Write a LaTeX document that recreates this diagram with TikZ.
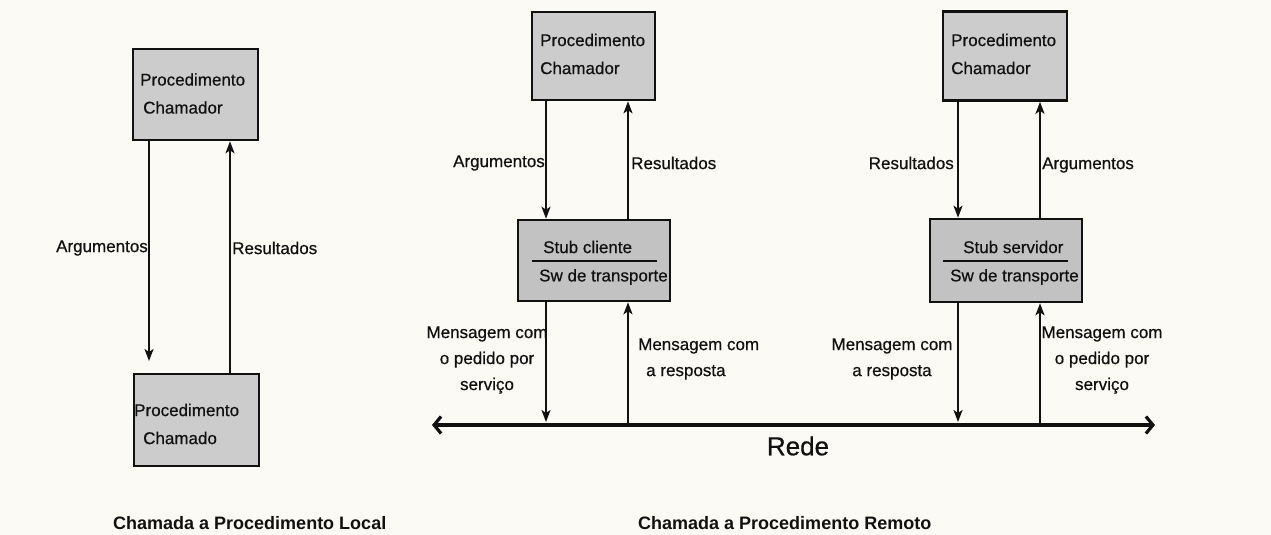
\documentclass[tikz,border=0pt]{standalone}
\usepackage{fontspec}
\setmainfont{Liberation Sans}[FakeBold=0.6]
\newfontfamily\captionfont{Liberation Sans}
\usetikzlibrary{arrows.meta}
\definecolor{paper}{HTML}{FCFAF5}
\definecolor{boxgray}{HTML}{CCCCCC}
\definecolor{stubgray}{HTML}{C2C2C2}
\definecolor{ink}{HTML}{111111}
\begin{document}
\begin{tikzpicture}[x=1pt,y=-1pt,
  every node/.style={text=ink},
  procbox/.style={draw=ink,line width=2.6pt,fill=boxgray,inner sep=0pt},
  stubbox/.style={procbox,fill=stubgray},
  boxtext/.style={inner sep=0pt,align=left,font=\fontsize{17}{28}\selectfont},
  lbl/.style={inner sep=0pt,font=\fontsize{17}{26}\selectfont},
  msgtext/.style={lbl,align=center},
  captiontext/.style={inner sep=0pt,anchor=west,font=\captionfont\bfseries\fontsize{18}{22}\selectfont},
  arr/.style={draw=ink,line width=2pt,-{Stealth[length=12pt,width=9pt,inset=3pt]}},
  netline/.style={draw=ink,line width=3.4pt,
    {Straight Barb[length=7pt,width=17pt,line width=3.2pt]}-{Straight Barb[length=7pt,width=17pt,line width=3.2pt]}}
]
% page
\fill[paper] (0,0) rectangle (1271,535);
\useasboundingbox (0,0) rectangle (1271,535);

% ---------- local call ----------
\node[procbox,minimum width=125,minimum height=91] (lcaller) at (195.5,94.5) {};
\node[boxtext,anchor=west] (lcallerT) at (140,93.5) {Procedimento\\\hspace{3pt}Chamador};
\node[procbox,minimum width=125,minimum height=92] (lcallee) at (196.5,420) {};
\node[boxtext,anchor=west] (lcalleeT) at (134,424) {Procedimento\\\hspace{9pt}Chamado};
\coordinate (argTip) at (149,361);
\draw[arr] (149,0 |- lcaller.south) -- (argTip);
\draw[arr] (230,0 |- lcallee.north) -- (230,0 |- lcaller.south);
\node[lbl,anchor=east] (lArg) at (148,248) {Argumentos};
\node[lbl,anchor=west] (lRes) at (232,248) {Resultados};

% ---------- remote call: client side ----------
\node[procbox,minimum width=123,minimum height=88] (mcaller) at (593.5,56) {};
\node[boxtext,anchor=west] (mcallerT) at (540,54) {Procedimento\\Chamador};
\node[stubbox,minimum width=152,minimum height=81] (cstub) at (594,260.5) {};
\node[lbl,anchor=west] (cstubT) at (543,247) {Stub cliente};
\node[lbl,anchor=west] (cswT) at (539,277) {Sw de transporte};
\draw[draw=ink,line width=1.8pt] (532,261) -- (657,261);

% ---------- remote call: server side ----------
\node[procbox,minimum width=124,minimum height=89] (rcaller) at (1005,56) {};
\node[boxtext,anchor=west] (rcallerT) at (951,54) {Procedimento\\Chamador};
\node[stubbox,minimum width=152,minimum height=83] (sstub) at (1006,260.5) {};
\node[lbl,anchor=west] (sstubT) at (963,247) {Stub servidor};
\node[lbl,anchor=west] (sswT) at (950,277) {Sw de transporte};
\draw[draw=ink,line width=1.8pt] (943,261) -- (1068,261);

% ---------- network ----------
\coordinate (netL) at (432,425);
\coordinate (netR) at (1155,425);
\draw[netline] (netL) -- (netR);
\node[inner sep=0pt,font=\fontsize{26}{30}\selectfont] (rede) at (798,446) {Rede};

% ---------- client connectors ----------
\draw[arr] (546,0 |- mcaller.south) -- (546,0 |- cstub.north);
\draw[arr] (628,0 |- cstub.north) -- (628,0 |- mcaller.south);
\draw[arr,shorten >=3pt] (546,0 |- cstub.south) -- (546,0 |- netL);
\draw[arr] (628,0 |- netL) -- (628,0 |- cstub.south);
\node[lbl,anchor=east] (mArg) at (545,163) {Argumentos};
\node[lbl,anchor=west] (mRes) at (631,163) {Resultados};
\node[msgtext] (cReq) at (487,360) {Mensagem com\\o pedido por\\servi\c{c}o};
\node[lbl,align=left,anchor=west] (cResp) at (638,359) {Mensagem com\\\hspace{8pt}a resposta};

% ---------- server connectors ----------
\draw[arr] (958,0 |- rcaller.south) -- (958,0 |- sstub.north);
\draw[arr] (1040,0 |- sstub.north) -- (1040,0 |- rcaller.south);
\draw[arr,shorten >=3pt] (958,0 |- sstub.south) -- (958,0 |- netL);
\draw[arr] (1040,0 |- netL) -- (1040,0 |- sstub.south);
\node[lbl,anchor=east] (sRes) at (954,163) {Resultados};
\node[lbl,anchor=west] (sArg) at (1042,165) {Argumentos};
\node[msgtext] (sResp) at (892,359) {Mensagem com\\a resposta};
\node[msgtext] (sReq) at (1102,360) {Mensagem com\\o pedido por\\servi\c{c}o};

% ---------- captions ----------
\node[captiontext] (capLocal) at (113,523) {Chamada a Procedimento Local};
\node[captiontext] (capRemote) at (638,523) {Chamada a Procedimento Remoto};
\end{tikzpicture}
\end{document}
